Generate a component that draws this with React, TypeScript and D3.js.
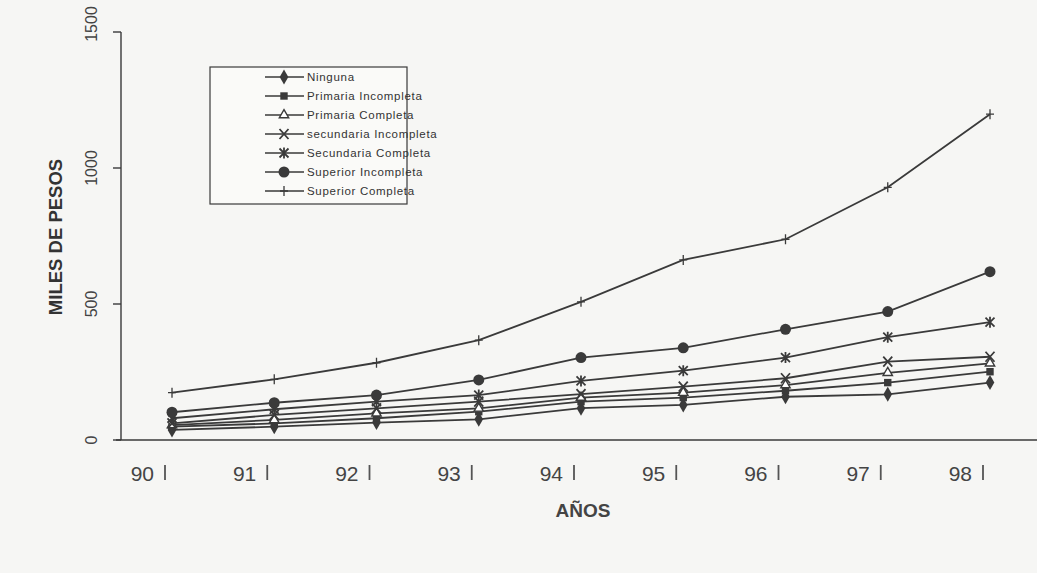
import * as d3 from 'd3';

const years = ['90', '91', '92', '93', '94', '95', '96', '97', '98'];

const seriesNames = [
  'Ninguna',
  'Primaria Incompleta',
  'Primaria Completa',
  'secundaria Incompleta',
  'Secundaria Completa',
  'Superior Incompleta',
  'Superior Completa',
];

const ninguna = [37, 49, 64, 76, 117, 129, 159, 168, 211];
const primariaIncompleta = [49, 61, 80, 104, 141, 156, 181, 211, 251];
const primariaCompleta = [55, 74, 98, 116, 156, 174, 202, 247, 282];
const secundariaIncompleta = [61, 92, 116, 141, 169, 196, 227, 288, 306];
const secundariaCompleta = [80, 113, 141, 165, 217, 255, 303, 378, 433];
const superiorIncompleta = [102, 137, 165, 221, 303, 339, 407, 472, 619];
const superiorCompleta = [174, 223, 284, 367, 508, 662, 738, 929, 1198];

const seriesValues = [
  ninguna,
  primariaIncompleta,
  primariaCompleta,
  secundariaIncompleta,
  secundariaCompleta,
  superiorIncompleta,
  superiorCompleta,
];

const yTicks = [0, 500, 1000, 1500];

const markerTypes = ['diamond', 'square', 'triangle', 'x', 'asterisk', 'circle', 'plus'];

const W = 1037;
const H = 573;
const ink = '#3a3a3a';

// draws one marker centered at 0,0
function Marker({ type }: { type: string }) {
  if (type === 'diamond') {
    return <path d={d3.symbol(d3.symbolDiamond, 65)()!} fill={ink} />;
  }
  if (type === 'square') {
    return <path d={d3.symbol(d3.symbolSquare, 55)()!} fill={ink} />;
  }
  if (type === 'triangle') {
    return <path d={d3.symbol(d3.symbolTriangle, 38)()!} fill="#fff" stroke={ink} strokeWidth={1.4} />;
  }
  if (type === 'circle') {
    return <circle r={5.5} fill={ink} />;
  }
  if (type === 'x') {
    return <path d="M-4.5,-5L4.5,5M4.5,-5L-4.5,5" stroke={ink} strokeWidth={1.8} />;
  }
  if (type === 'asterisk') {
    return <path d="M-4.5,-4.5L4.5,4.5M4.5,-4.5L-4.5,4.5M0,-5.5L0,5.5" stroke={ink} strokeWidth={1.8} />;
  }
  // plus
  return <path d="M-4,0L4,0M0,-5L0,5" stroke={ink} strokeWidth={1.3} />;
}

export default function App() {
  const x = d3.scalePoint<string>().domain(years).range([172, 990]);
  const y = d3.scaleLinear().domain([0, 1500]).range([440, 32]);

  const line = d3
    .line<number>()
    .x((_, i) => x(years[i])!)
    .y((d) => y(d));

  const legendX = 210;
  const legendY = 67;

  return (
    <svg
      width={W}
      height={H}
      style={{ position: 'absolute', left: 0, top: 0, background: '#f6f6f4' }}
      fontFamily="'Liberation Sans', Arial, sans-serif"
    >
      {/* axes */}
      <line x1={121} y1={y(1500)} x2={121} y2={y(0)} stroke={ink} strokeWidth={1.4} />
      <line x1={116} y1={y(0)} x2={W} y2={y(0)} stroke={ink} strokeWidth={1.4} />
      {yTicks.map((t) => (
        <g key={t}>
          <line x1={113} y1={y(t)} x2={121} y2={y(t)} stroke={ink} strokeWidth={1.4} />
          <text
            transform={`translate(97,${t === 1500 ? y(t) - 8 : y(t)}) rotate(-90)`}
            textAnchor="middle"
            fontSize={16}
            fill="#444"
          >
            {t}
          </text>
        </g>
      ))}
      <text
        transform={`translate(62,237) rotate(-90)`}
        textAnchor="middle"
        fontSize={18.5}
        fontWeight="bold"
        fill="#333"
      >
        MILES DE PESOS
      </text>

      {/* x labels */}
      {years.map((yr) => (
        <g key={yr}>
          <text x={x(yr)! - 18} y={481} textAnchor="end" fontSize={21} fill="#444">
            {yr}
          </text>
          <line x1={x(yr)! - 7} y1={465} x2={x(yr)! - 7} y2={480} stroke="#555" strokeWidth={1.8} />
        </g>
      ))}
      <text x={583} y={517} textAnchor="middle" fontSize={19} fontWeight="bold" fill="#444">
        AÑOS
      </text>

      {/* series */}
      {seriesValues.map((vals, s) => (
        <g key={seriesNames[s]}>
          <path d={line(vals)!} fill="none" stroke={ink} strokeWidth={1.8} />
          {vals.map((v, i) => (
            <g key={i} transform={`translate(${x(years[i])},${y(v)})`}>
              <Marker type={markerTypes[s]} />
            </g>
          ))}
        </g>
      ))}

      {/* legend */}
      <rect x={legendX} y={legendY} width={197} height={137} fill="#fafaf8" stroke={ink} strokeWidth={1.2} />
      {seriesNames.map((name, i) => {
        const ly = legendY + 10 + i * 19;
        return (
          <g key={name}>
            <line x1={265} y1={ly} x2={304} y2={ly} stroke={ink} strokeWidth={1.5} />
            <g transform={`translate(284,${ly})`}>
              <Marker type={markerTypes[i]} />
            </g>
            <text x={307} y={ly + 4} fontSize={11.5} letterSpacing={0.7} fill="#333">
              {name}
            </text>
          </g>
        );
      })}
    </svg>
  );
}
